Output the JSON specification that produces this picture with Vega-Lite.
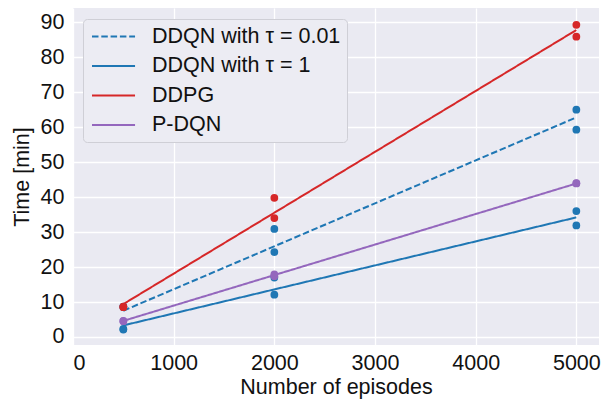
{
  "$schema": "https://vega.github.io/schema/vega-lite/v6.json",
  "width": 526,
  "height": 337,
  "autosize": "none",
  "padding": {"left": 73, "top": 8, "right": 13, "bottom": 54},
  "background": "white",
  "datasets": {
    "fits": [
      {"series": "DDQN with τ = 0.01", "episodes": 500, "time": 7.5},
      {"series": "DDQN with τ = 0.01", "episodes": 5000, "time": 62.8},
      {"series": "DDQN with τ = 1", "episodes": 500, "time": 3.3},
      {"series": "DDQN with τ = 1", "episodes": 5000, "time": 34.2},
      {"series": "DDPG", "episodes": 500, "time": 9.4},
      {"series": "DDPG", "episodes": 5000, "time": 87.8},
      {"series": "P-DQN", "episodes": 500, "time": 4.6},
      {"series": "P-DQN", "episodes": 5000, "time": 43.9}
    ],
    "runs": [
      {"series": "DDQN with τ = 0.01", "episodes": 500, "time": 8.6},
      {"series": "DDQN with τ = 0.01", "episodes": 500, "time": 8.7},
      {"series": "DDQN with τ = 0.01", "episodes": 2000, "time": 30.9},
      {"series": "DDQN with τ = 0.01", "episodes": 2000, "time": 24.3},
      {"series": "DDQN with τ = 0.01", "episodes": 5000, "time": 65.0},
      {"series": "DDQN with τ = 0.01", "episodes": 5000, "time": 59.3},
      {"series": "DDQN with τ = 1", "episodes": 500, "time": 2.3},
      {"series": "DDQN with τ = 1", "episodes": 500, "time": 2.1},
      {"series": "DDQN with τ = 1", "episodes": 2000, "time": 17.0},
      {"series": "DDQN with τ = 1", "episodes": 2000, "time": 12.1},
      {"series": "DDQN with τ = 1", "episodes": 5000, "time": 36.0},
      {"series": "DDQN with τ = 1", "episodes": 5000, "time": 31.9},
      {"series": "DDPG", "episodes": 500, "time": 8.7},
      {"series": "DDPG", "episodes": 500, "time": 8.5},
      {"series": "DDPG", "episodes": 2000, "time": 39.8},
      {"series": "DDPG", "episodes": 2000, "time": 34.0},
      {"series": "DDPG", "episodes": 5000, "time": 89.3},
      {"series": "DDPG", "episodes": 5000, "time": 85.9},
      {"series": "P-DQN", "episodes": 500, "time": 4.6},
      {"series": "P-DQN", "episodes": 500, "time": 4.5},
      {"series": "P-DQN", "episodes": 2000, "time": 17.9},
      {"series": "P-DQN", "episodes": 2000, "time": 17.4},
      {"series": "P-DQN", "episodes": 5000, "time": 43.9},
      {"series": "P-DQN", "episodes": 5000, "time": 44.0}
    ]
  },
  "encoding": {
    "x": {
      "field": "episodes", "type": "quantitative",
      "scale": {"domain": [0, 5225], "nice": false, "zero": false},
      "axis": {"values": [0, 1000, 2000, 3000, 4000, 5000], "format": "d", "title": "Number of episodes", "labelPadding": 7, "titlePadding": 3}
    },
    "y": {
      "field": "time", "type": "quantitative",
      "scale": {"domain": [-2.3, 94.1], "nice": false, "zero": false},
      "axis": {"values": [0, 10, 20, 30, 40, 50, 60, 70, 80, 90], "format": "d", "title": "Time [min]", "labelPadding": 9, "titlePadding": 7}
    }
  },
  "layer": [
    {
      "data": {"name": "fits"},
      "mark": {"type": "line", "strokeWidth": 2},
      "encoding": {
        "color": {
          "field": "series", "type": "nominal",
          "scale": {"domain": ["DDQN with τ = 0.01", "DDQN with τ = 1", "DDPG", "P-DQN"], "range": ["#1f77b4", "#1f77b4", "#d62728", "#9467bd"]},
          "legend": {
            "title": null, "orient": "none", "legendX": 10, "legendY": 11,
            "symbolType": "M-0.81,0H3.29", "symbolSize": 441, "symbolStrokeWidth": 2,
            "labelOffset": 40, "padding": 6, "rowPadding": 7.5, "labelLimit": 400,
            "labelFont": "Liberation Sans", "labelFontSize": 21.5, "labelColor": "#111",
            "fillColor": "#ececf3", "strokeColor": "#cfcfd6", "cornerRadius": 4
          }
        },
        "strokeDash": {
          "field": "series", "type": "nominal",
          "scale": {"domain": ["DDQN with τ = 0.01", "DDQN with τ = 1", "DDPG", "P-DQN"], "range": [[6.5, 2.8], [1, 0], [1, 0], [1, 0]]},
          "legend": {
            "title": null, "orient": "none", "legendX": 10, "legendY": 11,
            "symbolType": "M-0.81,0H3.29", "symbolSize": 441, "symbolStrokeWidth": 2,
            "labelOffset": 40, "padding": 6, "rowPadding": 7.5, "labelLimit": 400,
            "labelFont": "Liberation Sans", "labelFontSize": 21.5, "labelColor": "#111",
            "fillColor": "#ececf3", "strokeColor": "#cfcfd6", "cornerRadius": 4
          }
        }
      }
    },
    {
      "data": {"name": "runs"},
      "mark": {"type": "point", "filled": true, "opacity": 1, "size": 60, "shape": "circle", "strokeWidth": 0},
      "encoding": {
        "fill": {
          "field": "series", "type": "nominal",
          "scale": {"domain": ["DDQN with τ = 0.01", "DDQN with τ = 1", "DDPG", "P-DQN"], "range": ["#1f77b4", "#1f77b4", "#d62728", "#9467bd"]},
          "legend": null
        }
      }
    }
  ],
  "config": {
    "view": {"fill": "#eaeaf2", "stroke": null},
    "axis": {
      "domain": false, "ticks": false,
      "gridColor": "white", "gridWidth": 1.3,
      "labelFont": "Liberation Sans", "labelFontSize": 21.5, "labelColor": "#111",
      "titleFont": "Liberation Sans", "titleFontSize": 21.5, "titleFontWeight": "normal", "titleColor": "#111"
    }
  }
}
